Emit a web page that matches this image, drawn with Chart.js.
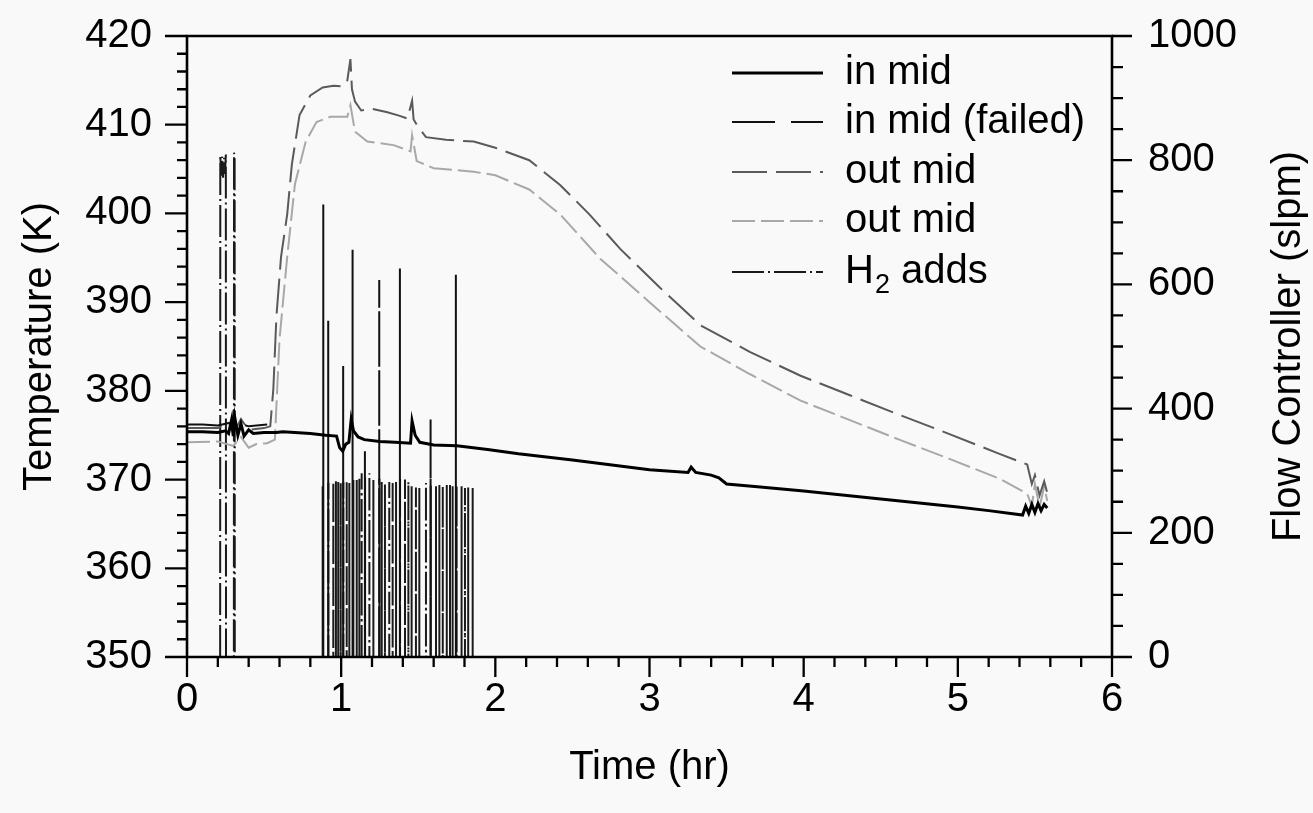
<!DOCTYPE html>
<html><head><meta charset="utf-8">
<script src="https://cdn.jsdelivr.net/npm/chart.js@4.4.0/dist/chart.umd.min.js"></script>
<style>html,body{margin:0;padding:0;background:#f9f9f9;}canvas{display:block}</style>
</head><body>
<div style="width:1313px;height:813px;position:relative"><canvas id="c" width="1313" height="813"></canvas></div>
<script>
const FONT = '"Liberation Sans", Arial, Helvetica, sans-serif';

// ---- tick labels ----
const xTickValues = [0, 1, 2, 3, 4, 5, 6];
const tempTickValues = [350, 360, 370, 380, 390, 400, 410, 420];
const flowTickValues = [0, 200, 400, 600, 800, 1000];

// ---- series: in mid (K) ----
const inMidTime = [0, 0.10, 0.20, 0.25, 0.27, 0.29, 0.30, 0.31, 0.33, 0.35, 0.37, 0.40, 0.43, 0.50, 0.58, 0.62, 0.70, 0.80, 0.90, 0.97, 0.99, 1.01, 1.03, 1.05, 1.065, 1.08, 1.11, 1.15, 1.25, 1.35, 1.45, 1.46, 1.48, 1.51, 1.60, 1.75, 1.95, 2.15, 2.5, 3.0, 3.25, 3.27, 3.30, 3.40, 3.45, 3.50, 3.70, 4.0, 4.5, 5.0, 5.2, 5.42, 5.44, 5.46, 5.48, 5.50, 5.52, 5.54, 5.56, 5.58];
const inMidTemp = [375.4, 375.4, 375.3, 375.5, 375.2, 376.8, 374.9, 377.0, 375.0, 376.3, 374.9, 375.6, 375.2, 375.3, 375.3, 375.4, 375.3, 375.2, 375.0, 374.9, 373.6, 373.2, 374.0, 374.2, 376.8, 375.5, 374.8, 374.5, 374.3, 374.2, 374.1, 376.6, 375.0, 374.2, 373.9, 373.8, 373.4, 372.9, 372.2, 371.1, 370.8, 371.4, 370.8, 370.5, 370.2, 369.5, 369.2, 368.7, 367.8, 366.9, 366.5, 366.0, 367.0, 366.2, 367.2, 366.3, 367.3, 366.5, 367.2, 366.8];

// ---- series: in mid (failed) (K) ----
const failedTime = [0, 0.10, 0.20, 0.25, 0.30, 0.40, 0.52, 0.525];
const failedTemp = [376.2, 376.2, 376.1, 376.3, 376.5, 376.0, 376.2, null];
const failedSpikeTime = [0.884, 0.916, 1.013, 1.074, 1.154, 1.247, 1.381, 1.580, 1.744];
const failedSpikeTemp = [401.0, 387.9, 382.8, 395.9, 373.2, 392.5, 393.8, 376.8, 393.1];

// ---- series: out mid (dark) (K) ----
const outMidATime = [0, 0.20, 0.27, 0.30, 0.35, 0.40, 0.50, 0.54, 0.56, 0.58, 0.61, 0.65, 0.68, 0.73, 0.80, 0.88, 0.95, 1.01, 1.04, 1.06, 1.07, 1.09, 1.13, 1.20, 1.30, 1.38, 1.43, 1.46, 1.47, 1.49, 1.55, 1.68, 1.86, 2.0, 2.22, 2.42, 2.61, 2.81, 3.07, 3.33, 3.65, 3.98, 4.30, 4.62, 4.95, 5.27, 5.45, 5.48, 5.50, 5.53, 5.56, 5.58];
const outMidATemp = [375.8, 375.8, 376.5, 375.2, 376.8, 375.6, 375.8, 376.0, 380.2, 388.4, 395.1, 399.9, 405.5, 411.1, 413.3, 414.2, 414.4, 414.3, 415.0, 417.4, 414.0, 412.6, 411.6, 411.8, 411.4, 411.0, 410.7, 412.7, 410.6, 410.0, 408.6, 408.3, 408.1, 407.4, 406.0, 403.2, 399.9, 396.0, 391.6, 387.4, 384.4, 381.7, 379.5, 377.3, 375.1, 372.9, 371.7, 369.5, 370.5, 368.2, 369.8, 368.5];

// ---- series: out mid (light) (K) ----
const outMidBTime = [0, 0.20, 0.30, 0.35, 0.40, 0.45, 0.52, 0.57, 0.58, 0.60, 0.65, 0.70, 0.77, 0.84, 0.93, 1.04, 1.06, 1.09, 1.17, 1.34, 1.45, 1.46, 1.49, 1.60, 1.86, 2.0, 2.22, 2.42, 2.68, 3.0, 3.33, 3.65, 3.98, 4.30, 4.62, 4.95, 5.27, 5.45, 5.48, 5.50, 5.53, 5.56, 5.58];
const outMidBTemp = [374.2, 374.3, 373.8, 374.8, 373.6, 374.0, 374.1, 374.5, 378.3, 385.8, 395.1, 403.3, 408.1, 410.3, 410.9, 410.9, 412.2, 409.2, 408.1, 407.7, 407.0, 408.8, 405.9, 405.1, 404.7, 404.3, 402.7, 399.9, 394.9, 390.0, 385.0, 381.9, 378.9, 376.7, 374.5, 372.3, 370.1, 368.4, 367.0, 369.5, 366.9, 369.2, 367.6];

// ---- series: H2 adds (slpm) ----
const h2EarlyTime = [0.215, 0.216, 0.222, 0.228, 0.234, 0.240, 0.246, 0.252, 0.253, 0.300, 0.304, 0.305, 0.309, 0.310];
const h2EarlyFlow = [0, 808, 775, 806, 772, 804, 778, 809, 0, 0, 0, 812, 806, 0];
const h2PulseTime = [0.880, 0.917, 0.949, 0.966, 0.981, 0.997, 1.014, 1.036, 1.053, 1.079, 1.101, 1.118, 1.133, 1.155, 1.183, 1.209, 1.248, 1.263, 1.284, 1.312, 1.334, 1.356, 1.382, 1.414, 1.436, 1.457, 1.485, 1.507, 1.550, 1.581, 1.615, 1.637, 1.659, 1.685, 1.706, 1.723, 1.749, 1.781, 1.803, 1.824, 1.853];
const h2PulseFlow = [275, 280, 282, 283, 282, 280, 282, 284, 280, 285, 285, 287, 296, 290, 296, 285, 287, 282, 278, 282, 283, 282, 290, 286, 282, 275, 273, 272, 280, 276, 275, 277, 275, 277, 277, 275, 276, 275, 272, 273, 272];

const legendLabels = ['in mid', 'in mid (failed)', 'out mid', 'out mid', 'H2 adds'];

function pairs(ts, vs) { return ts.map((t, i) => ({x: t, y: vs[i]})); }
function pulses(ts, vs, base) {
  const out = [];
  ts.forEach((t, i) => { out.push({x: t, y: base}, {x: t, y: vs[i]}, {x: t, y: base}); });
  return out;
}

const styles = [
  {color: '#000000', width: 3, dash: []},
  {color: '#111111', width: 2, dash: [43, 16]},
  {color: '#5a5a5a', width: 2, dash: [35, 9]},
  {color: '#a8a8a8', width: 2, dash: [23, 6]},
  {color: '#1a1a1a', width: 2, dash: [32, 4, 2, 4]}
];

const datasets = [
  {label: legendLabels[0], data: pairs(inMidTime, inMidTemp), yAxisID: 'y'},
  {label: legendLabels[1], data: pairs(failedTime, failedTemp).concat(pulses(failedSpikeTime, failedSpikeTemp, 340)), yAxisID: 'y'},
  {label: legendLabels[2], data: pairs(outMidATime, outMidATemp), yAxisID: 'y'},
  {label: legendLabels[3], data: pairs(outMidBTime, outMidBTemp), yAxisID: 'y'},
  {label: legendLabels[4], data: pairs(h2EarlyTime, h2EarlyFlow).concat(pulses(h2PulseTime, h2PulseFlow, 0)), yAxisID: 'y2'}
].map((d, i) => Object.assign(d, {
  showLine: true, spanGaps: false, pointRadius: 0, borderColor: styles[i].color, borderWidth: styles[i].width,
  borderDash: styles[i].dash, tension: 0, fill: false
}));

const FS = 40;
const tickFont = {family: FONT, size: FS, lineHeight: 1.0};
const titleFont = {family: FONT, size: FS, lineHeight: 1.2};
const hiddenGrid = {display: true, drawOnChartArea: false, drawTicks: true, color: 'rgba(0,0,0,0)', tickColor: 'rgba(0,0,0,0)'};

const axesPlugin = {
  id: 'axesPlugin',
  beforeDraw(chart) {
    const c = chart.ctx;
    c.save(); c.fillStyle = '#f9f9f9'; c.fillRect(0, 0, chart.width, chart.height); c.restore();
  },
  afterDraw(chart) {
    const c = chart.ctx;
    const xs = chart.scales.x, ys = chart.scales.y, ys2 = chart.scales.y2;
    const L = xs.getPixelForValue(0), R = xs.getPixelForValue(6);
    const T = ys.getPixelForValue(420), B = ys.getPixelForValue(350);
    c.save();
    c.strokeStyle = '#000'; c.lineCap = 'butt'; c.setLineDash([]);
    c.lineWidth = 2.6;
    c.beginPath();
    c.moveTo(L, T); c.lineTo(R, T);
    c.moveTo(L, B); c.lineTo(R, B);
    c.moveTo(L, T - 1.3); c.lineTo(L, B + 1.3);
    c.moveTo(R, T - 1.3); c.lineTo(R, B + 1.3);
    c.stroke();
    c.lineWidth = 2.3;
    c.beginPath();
    for (let v = 350; v <= 420; v += 2) {
      const y = ys.getPixelForValue(v);
      const len = (v % 10 === 0) ? 22 : 10;
      c.moveTo(L, y); c.lineTo(L - len, y);
    }
    for (let v = 0; v <= 1000; v += 50) {
      const y = ys2.getPixelForValue(v);
      const len = (v % 200 === 0) ? 20 : 11;
      c.moveTo(R, y); c.lineTo(R + len, y);
    }
    for (let k = 0; k <= 30; k++) {
      const t = k * 0.2;
      const x = xs.getPixelForValue(t);
      const len = (k % 5 === 0) ? 20 : 10;
      c.moveTo(x, B); c.lineTo(x, B + len);
    }
    c.stroke();

    // right axis title, reading bottom to top
    c.fillStyle = '#000';
    c.font = FS + 'px ' + FONT;
    c.textAlign = 'center'; c.textBaseline = 'middle';
    c.translate(1289, (T + B) / 2);
    c.rotate(-Math.PI / 2);
    c.fillText('Flow Controller (slpm)', 0, 0);
    c.restore();

    // legend
    const rows = [73, 122, 172, 221, 272];
    c.save();
    c.font = FS + 'px ' + FONT;
    c.textBaseline = 'middle'; c.textAlign = 'left'; c.fillStyle = '#000';
    rows.forEach((y, i) => {
      c.strokeStyle = styles[i].color;
      c.lineWidth = i === 0 ? 2.8 : 2.2;
      c.setLineDash(styles[i].dash);
      c.beginPath(); c.moveTo(732, y); c.lineTo(823, y); c.stroke();
      if (i === 4) {
        c.fillText('H', 845, y);
        const wH = c.measureText('H').width;
        c.font = '27px ' + FONT;
        c.fillText('2', 845 + wH + 1, y + 14);
        const w2 = c.measureText('2').width;
        c.font = FS + 'px ' + FONT;
        c.fillText(' adds', 845 + wH + 1 + w2, y);
      } else {
        c.fillText(legendLabels[i], 845, y);
      }
    });
    c.restore();
  }
};

new Chart(document.getElementById('c'), {
  type: 'scatter',
  data: {datasets},
  options: {
    responsive: false, animation: false, devicePixelRatio: 1,
    layout: {padding: {top: 30, left: 0, right: 0, bottom: 0}},
    plugins: {legend: {display: false}, tooltip: {enabled: false}},
    scales: {
      x: {
        type: 'linear', position: 'bottom', min: 0, max: 6,
        afterFit(s) { s.height = 156; },
        afterBuildTicks(s) { s.ticks = xTickValues.map(v => ({value: v})); },
        grid: Object.assign({tickLength: 20}, hiddenGrid),
        border: {display: false},
        ticks: {font: tickFont, color: '#000', padding: 3, maxRotation: 0, autoSkip: false, callback: v => String(v)},
        title: {display: true, text: 'Time (hr)', font: titleFont, color: '#000', padding: {top: 0, bottom: 21}}
      },
      y: {
        type: 'linear', position: 'left', min: 350, max: 420,
        afterFit(s) { s.width = 187; },
        afterBuildTicks(s) { s.ticks = tempTickValues.map(v => ({value: v})); },
        grid: Object.assign({tickLength: 22}, hiddenGrid),
        border: {display: false},
        ticks: {font: tickFont, color: '#000', padding: 13, autoSkip: false, callback: v => String(v)},
        title: {display: true, text: 'Temperature (K)', font: titleFont, color: '#000', padding: {top: 16, bottom: 0}}
      },
      y2: {
        type: 'linear', position: 'right', min: 0, max: 1000,
        afterFit(s) { s.width = 201; },
        afterBuildTicks(s) { s.ticks = flowTickValues.map(v => ({value: v})); },
        grid: Object.assign({tickLength: 20}, hiddenGrid),
        border: {display: false},
        ticks: {font: tickFont, color: '#000', padding: 16, autoSkip: false, callback: v => String(v)},
        title: {display: false}
      }
    }
  },
  plugins: [axesPlugin]
});
</script>
</body></html>
